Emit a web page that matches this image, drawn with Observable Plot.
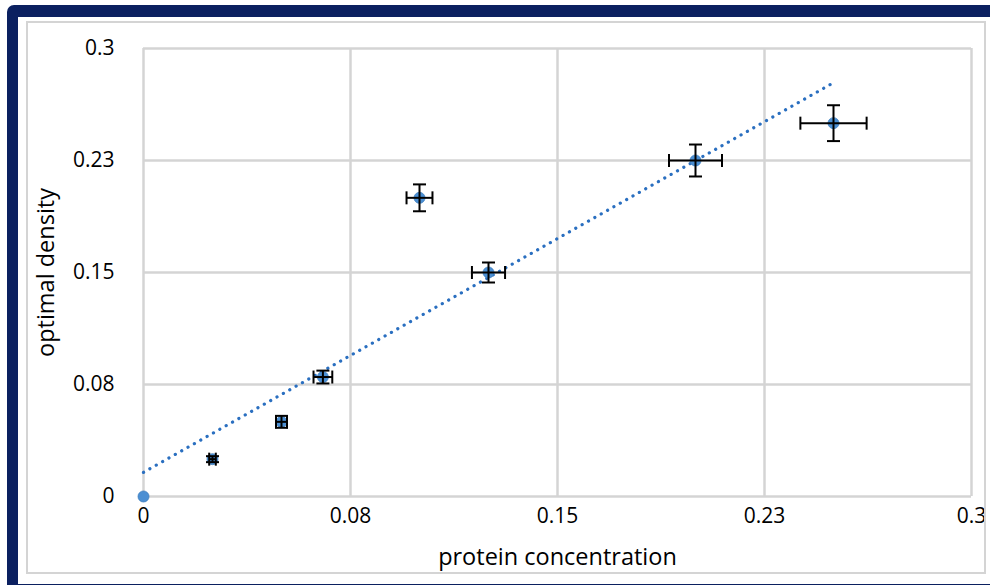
<!DOCTYPE html>
<html>
<head>
<meta charset="utf-8">
<script src="https://cdn.jsdelivr.net/npm/d3@7"></script>
<script src="https://cdn.jsdelivr.net/npm/@observablehq/plot@0.6"></script>
<style>
  html, body { margin: 0; padding: 0; background: #fff; overflow: hidden; }
  #wrap { position: relative; width: 990px; height: 585px; }
  #chart { position: absolute; left: 0; top: 0; }
  .frame { position: absolute; pointer-events: none; box-sizing: border-box; }
</style>
</head>
<body>
<div id="wrap">
  <div id="chart"></div>
  <div class="frame" style="left:7px; top:5px; width:1000px; height:590px; border:11px solid #0b2060; border-top-width:12px; border-radius:7px 0 0 0;"></div>
  <div class="frame" style="left:26px; top:21px; width:960px; height:553px; border:2px solid #d4d4d4;"></div>
</div>
<script>
// Data
const proteinConcentration = [0, 0.025, 0.05, 0.065, 0.1, 0.125, 0.2, 0.25];
const opticalDensity      = [0, 0.025, 0.05, 0.08, 0.2, 0.15, 0.225, 0.25];
const xError              = [0, 0.0012, 0.002, 0.0034, 0.0047, 0.006, 0.0096, 0.012];
const yError              = [0, 0.002, 0.004, 0.0043, 0.009, 0.0067, 0.0107, 0.012];
const tickValues = [0, 0.075, 0.15, 0.225, 0.3];
const tickLabels = ["0", "0.08", "0.15", "0.23", "0.3"];
const xTitle = "protein concentration";
const yTitle = "optimal density";

const data = proteinConcentration.map((x, i) => ({
  x, y: opticalDensity[i], xe: xError[i], ye: yError[i]
}));
const withErr = data.filter(d => d.xe > 0 || d.ye > 0);
const fmt = d => tickLabels[tickValues.indexOf(d)];

// cap symbols (line segments) for error bars
const hCap = { draw(ctx, size) { const r = Math.sqrt(size / Math.PI); ctx.moveTo(-r, 0); ctx.lineTo(r, 0); } };
const vCap = { draw(ctx, size) { const r = Math.sqrt(size / Math.PI); ctx.moveTo(0, -r); ctx.lineTo(0, r); } };
const capStyle = { stroke: "#000", strokeWidth: 2, fill: "none", r: 6.5 };

const chart = Plot.plot({
  width: 990,
  height: 585,
  marginLeft: 143,
  marginRight: 19,
  marginTop: 48,
  marginBottom: 89,
  style: { background: "transparent", fontFamily: "'Open Sans', sans-serif", fontSize: "21px", color: "#000" },
  x: { domain: [0, 0.3] },
  y: { domain: [0, 0.3] },
  marks: [
    Plot.gridX(tickValues, { stroke: "#d4d4d4", strokeOpacity: 1, strokeWidth: 2.5 }),
    Plot.gridY(tickValues, { stroke: "#d4d4d4", strokeOpacity: 1, strokeWidth: 2.5 }),
    Plot.axisX({ ticks: tickValues, tickFormat: fmt, tickSize: 0, tickPadding: 12, label: null, fontSize: 21 }),
    Plot.axisY({ ticks: tickValues, tickFormat: fmt, tickSize: 0, tickPadding: 29, label: null, fontSize: 21 }),
    Plot.linearRegressionY(data, { x: "x", y: "y", ci: 0, stroke: "#2a6fc0", strokeWidth: 3.2, strokeDasharray: "0.1 7.2", strokeLinecap: "round" }),
    Plot.dot(data, { x: "x", y: "y", r: 5.5, fill: "#4b8fd3", stroke: "#3f7fbf", strokeWidth: 0.8 }),
    Plot.link(withErr, { x1: d => d.x - d.xe, x2: d => d.x + d.xe, y1: "y", y2: "y", stroke: "#000", strokeWidth: 2 }),
    Plot.link(withErr, { x1: "x", x2: "x", y1: d => d.y - d.ye, y2: d => d.y + d.ye, stroke: "#000", strokeWidth: 2 }),
    Plot.dot(withErr, { x: d => d.x - d.xe, y: "y", symbol: vCap, ...capStyle }),
    Plot.dot(withErr, { x: d => d.x + d.xe, y: "y", symbol: vCap, ...capStyle }),
    Plot.dot(withErr, { x: "x", y: d => d.y - d.ye, symbol: hCap, ...capStyle }),
    Plot.dot(withErr, { x: "x", y: d => d.y + d.ye, symbol: hCap, ...capStyle }),
    Plot.text([xTitle], { text: d => d, frameAnchor: "bottom", dy: 61, lineAnchor: "middle", textAnchor: "middle", fontSize: 23.5 }),
    Plot.text([yTitle], { text: d => d, frameAnchor: "left", dx: -97, rotate: -90, lineAnchor: "middle", textAnchor: "middle", fontSize: 23.5 })
  ]
});
document.getElementById("chart").appendChild(chart);
</script>
</body>
</html>
